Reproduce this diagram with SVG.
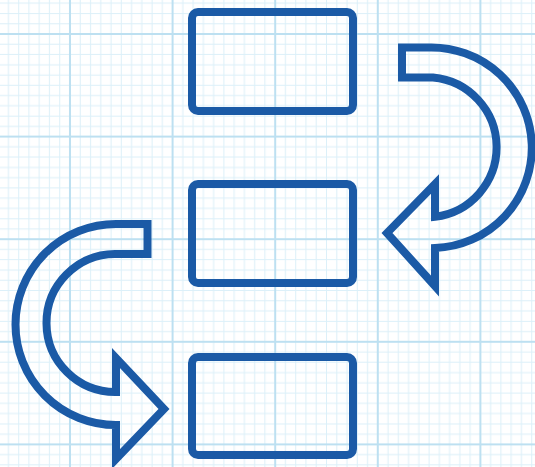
<svg xmlns="http://www.w3.org/2000/svg" width="535" height="467" viewBox="0 0 535 467">
  <defs>
    <style>
      .box { fill: none; stroke: #1b5aa6; stroke-width: 8; }
      .arrow { fill: none; stroke: #1b5aa6; stroke-width: 8; stroke-linejoin: miter; stroke-miterlimit: 10; }
      .minor { stroke: #dcf0f9; stroke-width: 1; }
      .major { stroke: #bde0f1; stroke-width: 2; }
    </style>
    <pattern id="grid" patternUnits="userSpaceOnUse" x="70" y="34" width="102.6" height="102.6">
      <rect width="102.6" height="102.6" fill="#ffffff"/>
      <g class="minor">
        <line x1="10.26" y1="0" x2="10.26" y2="102.6"/>
        <line x1="20.52" y1="0" x2="20.52" y2="102.6"/>
        <line x1="30.78" y1="0" x2="30.78" y2="102.6"/>
        <line x1="41.04" y1="0" x2="41.04" y2="102.6"/>
        <line x1="51.3" y1="0" x2="51.3" y2="102.6"/>
        <line x1="61.56" y1="0" x2="61.56" y2="102.6"/>
        <line x1="71.82" y1="0" x2="71.82" y2="102.6"/>
        <line x1="82.08" y1="0" x2="82.08" y2="102.6"/>
        <line x1="92.34" y1="0" x2="92.34" y2="102.6"/>
        <line y1="10.26" x1="0" y2="10.26" x2="102.6"/>
        <line y1="20.52" x1="0" y2="20.52" x2="102.6"/>
        <line y1="30.78" x1="0" y2="30.78" x2="102.6"/>
        <line y1="41.04" x1="0" y2="41.04" x2="102.6"/>
        <line y1="51.3" x1="0" y2="51.3" x2="102.6"/>
        <line y1="61.56" x1="0" y2="61.56" x2="102.6"/>
        <line y1="71.82" x1="0" y2="71.82" x2="102.6"/>
        <line y1="82.08" x1="0" y2="82.08" x2="102.6"/>
        <line y1="92.34" x1="0" y2="92.34" x2="102.6"/>
      </g>
      <g class="major">
        <line x1="0" y1="0" x2="0" y2="102.6"/>
        <line x1="102.6" y1="0" x2="102.6" y2="102.6"/>
        <line x1="0" y1="0" x2="102.6" y2="0"/>
        <line x1="0" y1="102.6" x2="102.6" y2="102.6"/>
      </g>
    </pattern>
  </defs>
  <rect id="background" x="0" y="0" width="535" height="467" fill="url(#grid)"/>
  <g id="box1"><rect class="box" x="192" y="12" width="161" height="99" rx="6"/></g>
  <g id="box2"><rect class="box" x="192" y="184" width="161" height="99" rx="6"/></g>
  <g id="box3"><rect class="box" x="192" y="357" width="161" height="98" rx="6"/></g>
  <g id="connectors">
    <path class="arrow" d="M 402,47.5 L 428,47.5 A 100,100 0 0 1 435,248 L 435,286 L 387,233 L 435,184 L 435,216.7 A 70,70 0 0 0 433,77.5 L 402,77.5 Z"/>
    <path class="arrow" d="M 147.5,224 L 116,224 A 100,100 0 0 0 116,425 L 116,459 L 164,409 L 116,358 L 116,392 A 69,69 0 0 1 115,254 L 147.5,254 Z"/>
  </g>
</svg>
